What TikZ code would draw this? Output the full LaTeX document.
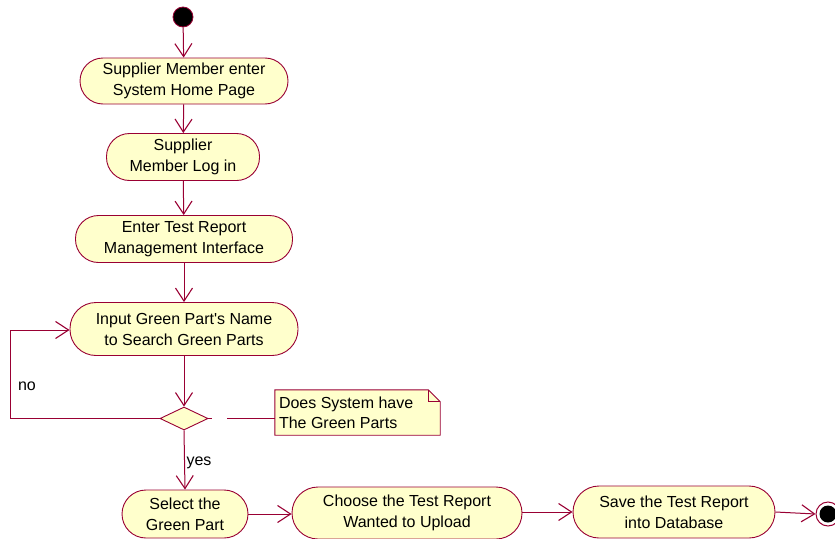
\documentclass[tikz,border=0pt]{standalone}
\usepackage{fontspec}
\setmainfont{Liberation Sans}
\usetikzlibrary{arrows.meta,shapes.geometric,calc}
\definecolor{rcol}{HTML}{990033}
\definecolor{ycol}{HTML}{FFFFCC}
\begin{document}
\begin{tikzpicture}[x=1pt,y=-1pt,
  font=\fontsize{16}{21}\selectfont,
  act/.style n args={3}{draw=rcol, fill=ycol, line width=0.9pt, align=center,
    minimum width=#1, minimum height=#2, rounded corners=#3, inner sep=0pt},
  flow/.style={draw=rcol, line width=1pt, -{Straight Barb[length=13pt,width=17pt,line width=1.1pt]}},
  lbl/.style={inner sep=0pt, font=\fontsize{16}{18}\selectfont}]
\useasboundingbox (0,0) rectangle (835,538);

% start and end states
\node[circle, fill=black, draw=rcol, line width=0.8pt, minimum size=20pt, inner sep=0pt] (start) at (183,17) {};
\node[circle, draw=rcol, fill=white, line width=1pt, minimum size=24pt, inner sep=0pt] (stop) at (828,514) {};
\fill[black] (stop.center) circle (8.5pt);

% activities
\node[act={208pt}{46pt}{23pt}] (a1) at (184,81) {Supplier Member enter\\System Home Page};
\node[act={153pt}{47pt}{23pt}] (a2) at (183,157) {Supplier\\Member Log in};
\node[act={217pt}{47pt}{23pt}] (a3) at (184,239) {Enter Test Report\\Management Interface};
\node[act={228pt}{53pt}{26pt}] (a4) at (184,329) {Input Green Part\textquotesingle s Name\\to Search Green Parts};
\node[act={126pt}{48pt}{24pt}] (a5) at (185,514) {Select the\\Green Part};
\node[act={230pt}{52pt}{26pt}] (a6) at (407,513) {Choose the Test Report\\Wanted to Upload};
\node[act={202pt}{52pt}{26pt}] (a7) at (674,512) {Save the Test Report\\into Database};

% decision
\node[diamond, draw=rcol, fill=ycol, line width=0.9pt, minimum width=48pt, minimum height=23pt, inner sep=0pt, aspect=2] (dec) at (184,418.5) {};

% note with folded corner
\node[inner sep=0pt, minimum width=165pt, minimum height=45pt] (note) at (357.5,412.5) {};
\draw[draw=rcol, fill=ycol, line width=0.9pt]
  (note.north west) -- ($(note.north east)+(-12,0)$) -- ($(note.north east)+(0,12)$)
  -- (note.south east) -- (note.south west) -- cycle;
\draw[draw=rcol, line width=0.9pt] ($(note.north east)+(-12,0)$) -- ($(note.north east)+(-12,12)$) -- ($(note.north east)+(0,12)$);
\node[align=left, anchor=west, inner sep=0pt, font=\fontsize{16}{20}\selectfont] (notetext) at ($(note.west)+(4,0)$) {Does System have\\The Green Parts};

% note anchor line, broken just past the decision
\coordinate (tickend) at ($(dec.east)+(4,0)$);
\coordinate (linkstart) at ($(dec.east)+(19,0)$);
\draw[draw=rcol, line width=1.1pt] (dec.east) -- (tickend);
\draw[draw=rcol, line width=1pt] (linkstart) -- (note.west |- dec.east);

% flows
\draw[flow] (start) -- (a1);
\draw[flow] (a1) -- (a2);
\draw[flow] (a2) -- (a3);
\draw[flow] (a3) -- (a4);
\draw[flow] (a4) -- (dec);
\coordinate (lb) at (10,418.5);
\coordinate (lt) at (10,330);
\draw[flow] (dec.west) -- (lb) -- (lt) -- (a4.west |- lt);
\draw[flow] (dec.south) -- (a5.north);
\draw[flow] (a5.east) -- (a6.west |- a5.east);
\draw[flow] (a6.east |- a7.east) -- (a7.west);
\draw[flow] (a7.east) -- (stop.west);

% guards
\node[lbl] (no) at (27,386) {no};
\node[lbl] (yes) at (199,463) {yes};
\end{tikzpicture}
\end{document}
